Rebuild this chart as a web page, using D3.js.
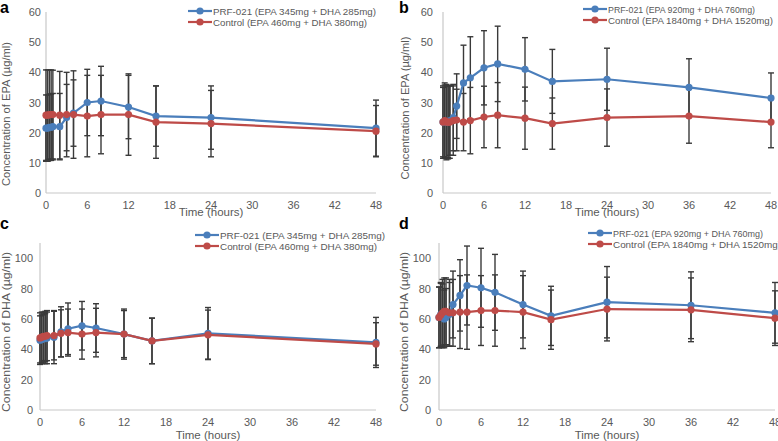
<!DOCTYPE html>
<html><head><meta charset="utf-8">
<script src="https://cdn.jsdelivr.net/npm/d3@7"></script>
<style>body{margin:0;background:#fff}svg{display:block}</style>
</head><body>
<svg id="c" width="778" height="441"></svg>
<script>
// ---- data ----
const timesAC = [0,0.25,0.5,0.75,1,2,3,4,6,8,12,16,24,48];
const timesBD = [0,0.25,0.5,0.75,1,1.5,2,3,4,6,8,12,16,24,36,48];
const xTicks = [0,6,12,18,24,30,36,42,48];

// panel a: EPA, low dose
const aPRF = [21.5,21.5,21.8,21.8,22,22,25,26.5,30,30.5,28.5,25.5,25,21.5];
const aPRFsd = [11,11,11,11,11,11,11,11,11,11.5,10.5,10,10.5,9.3];
const aCtl = [25.8,25.8,26,26,26,25.8,26,26,25.5,26,26,23.5,23,20.5];
const aCtlsd = [15,15,14.8,14.8,14.7,14.5,14,14.5,13.5,13,13.5,12,11,8.5];
// panel b: EPA, high dose
const bPRF = [23.5,23.8,23.5,23.5,24,25,28.8,36.5,38.2,41.5,42.8,41,37,37.7,35,31.5];
const bPRFsd = [11.5,12,12,11.8,11.5,11,10.7,12.5,13.6,12.3,12.5,10.5,10.6,10.3,9.5,8.3];
const bCtl = [23.5,24,23.5,23.5,23.5,24,24.2,23.5,24,25.2,25.8,24.8,23,25,25.5,23.5];
const bCtlsd = [12,12.5,12.5,12.2,12,11.5,10.2,9.5,11,10.2,10.8,10.3,8.5,9.5,9,8.5];
// panel c: DHA, low dose
const cPRF = [46,46.5,47,47,47.5,48,51.5,53.5,55.5,54,50,45.5,50.5,44.5];
const cPRFsd = [16,16,16,16.5,17,17.5,16.5,17,16,16,16.5,15,17,16.5];
const cCtl = [47.5,48,48.5,48.5,49,49,50.5,51,50,51,50,45.5,49.5,43.5];
const cCtlsd = [16.5,16.5,16,16.5,16.5,16,15.5,15.5,16.5,16,15.5,15,16.3,14];
// panel d: DHA, high dose
const dPRF = [61,63,62,60,61,63,69.5,75.5,82,80.5,77.5,69.5,62,71,69,64];
const dPRFsd = [20,21,21,19,19,21,22,23.5,26,26,25,22,19.5,23.5,22,20];
const dCtl = [61,62.5,64,65,65,64,64,64.5,64.5,65.5,65.5,64.5,59.5,66.5,66,60.5];
const dCtlsd = [20,21,22,22,22,22,22,24,24.5,23,23.5,24,19.5,21,21,18];

const yTicksEPA = [0,10,20,30,40,50,60];
const yTicksDHA = [0,20,40,60,80,100];

const legendA = ["PRF-021 (EPA 345mg + DHA 285mg)","Control (EPA 460mg + DHA 380mg)"];
const legendB = ["PRF-021 (EPA 920mg + DHA 760mg)","Control (EPA 1840mg + DHA 1520mg)"];

const BLUE = "#4a7ebb", RED = "#be4b48", BAR = "#3a3a3a";

const panels = [
 {lab:"a", times:timesAC, s:[[aPRF,aPRFsd],[aCtl,aCtlsd]], ymax:60, yt:yTicksEPA, ytitle:"Concentration of EPA (µg/ml)", leg:legendA, legW:[163,154], ytW:144,
  x0:46, x1:376, y0:193, y1:12, labX:0, labY:13, ytX:10, ytY:114, xtY:216, legX:188, legY:11, tickR:41},
 {lab:"b", times:timesBD, s:[[bPRF,bPRFsd],[bCtl,bCtlsd]], ymax:60, yt:yTicksEPA, ytitle:"Concentration of EPA (µg/ml)", leg:legendB, legW:[147,165], ytW:143,
  x0:443, x1:771, y0:193, y1:12, labX:399, labY:13, ytX:409, ytY:108, xtY:216, legX:583, legY:9, tickR:433},
 {lab:"c", times:timesAC, s:[[cPRF,cPRFsd],[cCtl,cCtlsd]], ymax:110, yt:yTicksDHA, ytitle:"Concentration of DHA (µg/ml)", leg:legendA, legW:[165,157], ytW:160,
  x0:40, x1:376, y0:410, y1:243, labX:0, labY:229, ytX:10, ytY:332, xtY:439, legX:195, legY:235, tickR:33},
 {lab:"d", times:timesBD, s:[[dPRF,dPRFsd],[dCtl,dCtlsd]], ymax:110, yt:yTicksDHA, ytitle:"Concentration of  DHA (µg/ml)", leg:legendB, legW:[150,168], ytW:160,
  x0:439, x1:775, y0:410, y1:243, labX:399, labY:229, ytX:408, ytY:332, xtY:439, legX:588, legY:233, tickR:431}
];

const svg = d3.select("#c");
const font = "'Liberation Sans', Arial, sans-serif";

panels.forEach(p => {
  const g = svg.append("g");
  const x = d3.scaleLinear().domain([0,48]).range([p.x0,p.x1]);
  const y = d3.scaleLinear().domain([0,p.ymax]).range([p.y0,p.y1]);

  // axes
  g.append("line").attr("x1",p.x0).attr("x2",p.x0).attr("y1",p.y1).attr("y2",p.y0).attr("stroke","#c8c8c8").attr("stroke-width",1.2);
  g.append("line").attr("x1",p.x0).attr("x2",p.x1).attr("y1",p.y0).attr("y2",p.y0).attr("stroke","#c8c8c8").attr("stroke-width",1.2);

  g.selectAll(".yt").data(p.yt).join("text")
    .attr("x",p.tickR).attr("y",d=>y(d)+4).attr("text-anchor","end")
    .attr("font-family",font).attr("font-size",11).attr("fill","#595959").text(d=>d);
  g.selectAll(".xt").data(xTicks).join("text")
    .attr("x",d=>x(d)).attr("y",p.y0+16).attr("text-anchor","middle")
    .attr("font-family",font).attr("font-size",11).attr("fill","#595959").text(d=>d);

  g.append("text").attr("x",(p.x0+p.x1)/2).attr("y",p.xtY).attr("text-anchor","middle")
    .attr("font-family",font).attr("font-size",11.5).attr("fill","#595959").text("Time (hours)");
  g.append("text").attr("transform",`translate(${p.ytX},${p.ytY}) rotate(-90)`).attr("text-anchor","middle")
    .attr("font-family",font).attr("font-size",11).attr("fill","#595959")
    .attr("textLength",p.ytW).attr("lengthAdjust","spacingAndGlyphs").text(p.ytitle);
  g.append("text").attr("x",p.labX).attr("y",p.labY).attr("font-family",font).attr("font-weight","bold")
    .attr("font-size",16).attr("fill","#000").text(p.lab);

  const cols = [BLUE, RED];
  // error bars
  p.s.forEach(([vals,sds]) => {
    const eb = g.append("g").attr("stroke",BAR).attr("stroke-width",1.4);
    p.times.forEach((t,i) => {
      const cx = x(t), lo = y(vals[i]-sds[i]), hi = y(vals[i]+sds[i]);
      eb.append("line").attr("x1",cx).attr("x2",cx).attr("y1",lo).attr("y2",hi);
      eb.append("line").attr("x1",cx-3).attr("x2",cx+3).attr("y1",lo).attr("y2",lo);
      eb.append("line").attr("x1",cx-3).attr("x2",cx+3).attr("y1",hi).attr("y2",hi);
    });
  });
  // lines + markers
  p.s.forEach(([vals],k) => {
    const data = p.times.map((t,i)=>[t,vals[i]]);
    g.append("path").datum(data).attr("fill","none").attr("stroke",cols[k]).attr("stroke-width",2.2)
      .attr("d", d3.line().x(d=>x(d[0])).y(d=>y(d[1])));
    g.selectAll(null).data(data).join("circle").attr("cx",d=>x(d[0])).attr("cy",d=>y(d[1]))
      .attr("r",3.6).attr("fill",cols[k]);
  });

  // legend
  p.leg.forEach((txt,k) => {
    const ly = p.legY + k*11;
    g.append("line").attr("x1",p.legX).attr("x2",p.legX+24).attr("y1",ly).attr("y2",ly).attr("stroke",cols[k]).attr("stroke-width",2.2);
    g.append("circle").attr("cx",p.legX+12).attr("cy",ly).attr("r",3.6).attr("fill",cols[k]);
    g.append("text").attr("x",p.legX+25).attr("y",ly+4).attr("font-family",font).attr("font-size",9.6)
      .attr("textLength",p.legW[k]).attr("lengthAdjust","spacingAndGlyphs")
      .attr("fill","#595959").text(txt);
  });
});
</script>
</body></html>
